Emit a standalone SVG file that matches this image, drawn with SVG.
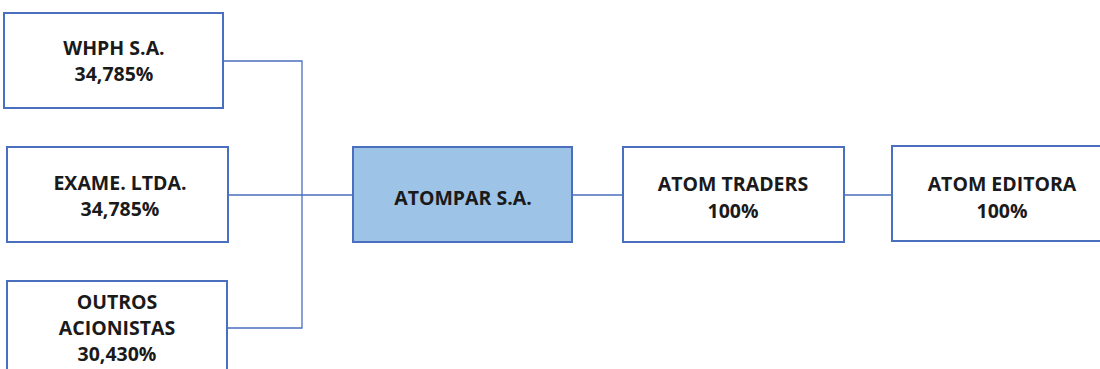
<svg xmlns="http://www.w3.org/2000/svg" width="1100" height="369" viewBox="0 0 1100 369">
<style>
.box{fill:#ffffff;stroke:#4a6fbf;stroke-width:2}
.hl{fill:#9dc3e6}
.t{font-family:"Open Sans","Liberation Sans",sans-serif;font-weight:700;font-size:19.5px;fill:#1a1a1a;text-anchor:middle}
.c{fill:none;stroke:#4a6fbf;stroke-width:1.3}
</style>
<rect width="1100" height="369" fill="#ffffff"/>
<g id="connectors">
<polyline class="c" points="223,61 302,61 302,328 227,328"/>
<line class="c" x1="228" y1="195" x2="353" y2="195"/>
<line class="c" x1="572" y1="195" x2="623" y2="195"/>
<line class="c" x1="844" y1="195" x2="892" y2="195"/>
</g>
<g id="whph">
<rect class="box" x="4" y="13" width="219" height="95"/>
<text class="t" x="114" y="55">WHPH S.A.</text>
<text class="t" x="114" y="81">34,785%</text>
</g>
<g id="exame">
<rect class="box" x="7" y="147" width="221" height="95"/>
<text class="t" x="120" y="190">EXAME. LTDA.</text>
<text class="t" x="120" y="216">34,785%</text>
</g>
<g id="outros">
<rect class="box" x="7" y="281" width="220" height="100"/>
<text class="t" x="117" y="309">OUTROS</text>
<text class="t" x="117" y="335">ACIONISTAS</text>
<text class="t" x="117" y="361">30,430%</text>
</g>
<g id="atompar">
<rect class="box hl" x="353" y="147" width="219" height="95"/>
<text class="t" x="463" y="205">ATOMPAR S.A.</text>
</g>
<g id="traders">
<rect class="box" x="623" y="147" width="221" height="95"/>
<text class="t" x="733" y="191">ATOM TRADERS</text>
<text class="t" x="733" y="218">100%</text>
</g>
<g id="editora">
<rect class="box" x="892" y="146" width="220" height="95"/>
<text class="t" x="1002" y="191">ATOM EDITORA</text>
<text class="t" x="1002" y="218">100%</text>
</g>
</svg>
